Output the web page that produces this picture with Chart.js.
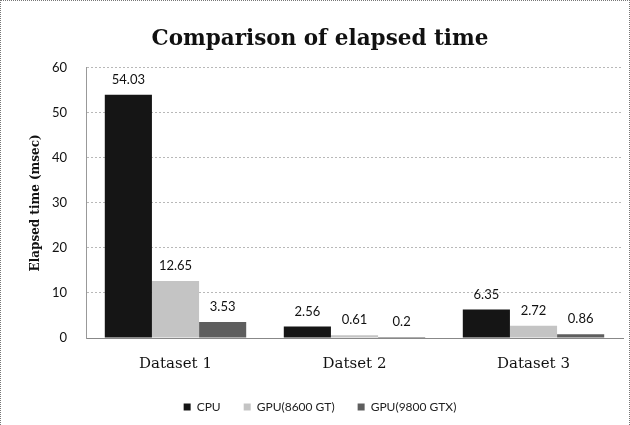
<!DOCTYPE html>
<html>
<head>
<meta charset="utf-8">
<title>Comparison of elapsed time</title>
<script src="https://cdn.jsdelivr.net/npm/chart.js@4/dist/chart.umd.min.js"></script>
<style>
	html, body { margin: 0; padding: 0; background: #fff; }
	#wrap {
		position: relative;
		width: 630px;
		height: 425px;
		box-sizing: border-box;
		border-top: 1px dotted #777;
		border-left: 1px dotted #777;
		border-right: 1px dotted #777;
	}
</style>
</head>
<body>
<div id="wrap"><canvas id="chart"></canvas></div>
<script>
// categories and measured times (msec)
const categories = ['Dataset 1', 'Datset 2', 'Dataset 3'];
const cpuTimes = [54.03, 2.56, 6.35];
const gpu8600Times = [12.65, 0.61, 2.72];
const gpu9800Times = [3.53, 0.2, 0.86];
const yTicks = [0, 10, 20, 30, 40, 50, 60];

const serif = "'DejaVu Serif', serif";
const sans = "Lato, 'Liberation Sans', sans-serif";

// value text above every bar
const barLabels = {
	id: 'barLabels',
	afterDatasetsDraw(chart) {
		const ctx = chart.ctx;
		ctx.save();
		ctx.font = '13px ' + sans;
		ctx.fillStyle = '#111';
		ctx.textAlign = 'center';
		ctx.textBaseline = 'middle';
		chart.data.datasets.forEach((ds, i) => {
			chart.getDatasetMeta(i).data.forEach((bar, j) => {
				ctx.fillText(String(ds.data[j]), bar.x, bar.y - 15);
			});
		});
		ctx.restore();
	}
};

new Chart(document.getElementById('chart'), {
	type: 'bar',
	data: {
		labels: categories,
		datasets: [
			{ label: 'CPU', data: cpuTimes, backgroundColor: '#151515' },
			{ label: 'GPU(8600 GT)', data: gpu8600Times, backgroundColor: '#c4c4c4' },
			{ label: 'GPU(9800 GTX)', data: gpu9800Times, backgroundColor: '#5e5e5e' }
		]
	},
	options: {
		responsive: true,
		maintainAspectRatio: false,
		animation: false,
		datasets: { bar: { barPercentage: 1, categoryPercentage: 0.79 } },
		layout: { padding: { left: 16, right: 6, top: 0, bottom: 2 } },
		plugins: {
			title: {
				display: true,
				text: 'Comparison of elapsed time',
				color: '#111',
				font: { family: serif, size: 21.5, weight: 'bold' },
				padding: { top: 26, bottom: 15 }
			},
			legend: {
				position: 'bottom',
				labels: {
					color: '#222',
					font: { family: sans, size: 12 },
					boxWidth: 7,
					boxHeight: 7,
					padding: 23
				}
			},
			tooltip: { enabled: false }
		},
		scales: {
			x: {
				afterFit(scale) { scale.height -= 4; },
				grid: { display: false },
				border: { color: '#888' },
				ticks: { color: '#111', font: { family: serif, size: 15 }, padding: 9 }
			},
			y: {
				min: 0,
				max: 60,
				afterBuildTicks(scale) {
					scale.ticks = yTicks.map(v => ({ value: v }));
				},
				afterFit(scale) { scale.width = 69; },
				grid: { color: '#b8b8b8', lineWidth: 1, drawTicks: false },
				border: { color: '#999', dash: [2, 2] },
				ticks: { color: '#111', font: { family: sans, size: 13 }, padding: 19 },
				title: {
					display: true,
					text: 'Elapsed time (msec)',
					color: '#111',
					font: { family: serif, size: 12, weight: 'bold' },
					padding: { top: 12, bottom: 4 }
				}
			}
		}
	},
	plugins: [barLabels]
});
</script>
</body>
</html>
